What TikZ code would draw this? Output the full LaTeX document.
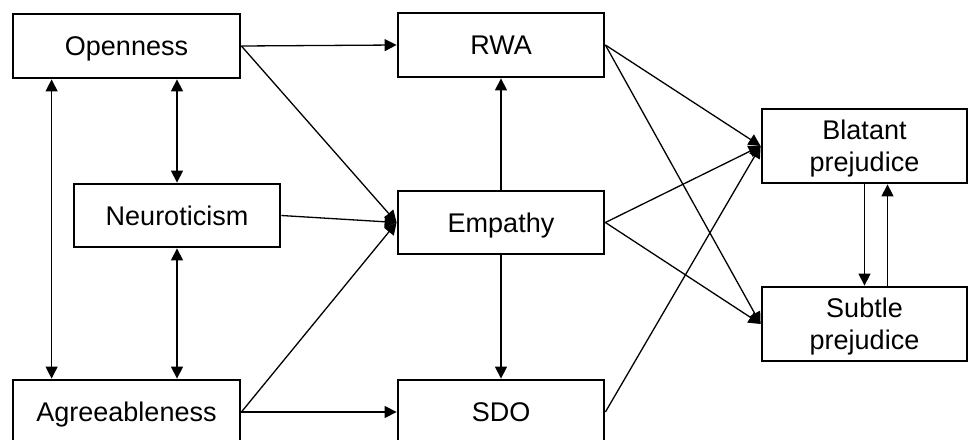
\documentclass[tikz,border=0pt]{standalone}
\usepackage{fontspec}
\setmainfont{Liberation Sans}
\usetikzlibrary{arrows.meta}
\begin{document}
\begin{tikzpicture}[x=1pt,y=-1pt,
  box/.style={draw=black, line width=2.8pt, fill=white, inner sep=0pt, align=center,
    font=\fontsize{27}{32}\selectfont, text depth=0pt},
  one/.style={text height=19pt},
  conn/.style={line width=1.3pt, -{Triangle[length=12pt,width=12pt]}},
  both/.style={line width=1.3pt, {Triangle[length=12pt,width=12pt]}-{Triangle[length=12pt,width=12pt]}}]
\useasboundingbox (0,0) rectangle (969,439);
\clip (0,0) rectangle (969,439);
\node[box, one, minimum width=227pt, minimum height=64pt] (open) at (126.5,46) {Openness};
\node[box, one, minimum width=206pt, minimum height=63pt] (neuro) at (177,215.5) {Neuroticism};
\node[box, one, minimum width=227pt, minimum height=64pt] (agree) at (126.5,412) {Agreeableness};
\node[box, one, minimum width=206pt, minimum height=64pt] (rwa) at (501,45) {RWA};
\node[box, one, minimum width=206pt, minimum height=63pt] (emp) at (501,222.5) {Empathy};
\node[box, one, minimum width=206pt, minimum height=64pt] (sdo) at (501,412) {SDO};
\node[box, minimum width=205pt, minimum height=74pt] (blat) at (864.5,146) {Blatant\\prejudice};
\node[box, minimum width=205pt, minimum height=74pt] (subt) at (864.5,324) {Subtle\\prejudice};
% predictors
\draw[conn] (open.east) -- (rwa.west);
\draw[conn] (open.east) -- (emp.west);
\draw[conn] (neuro.east) -- (emp.west);
\draw[conn] (agree.east) -- (emp.west);
\draw[conn] (agree.east) -- (sdo.west);
\draw[conn] (emp.north) -- (rwa.south);
\draw[conn] (emp.south) -- (sdo.north);
% correlations
\draw[both] ([xshift=40pt]open.south west) -- ([xshift=40pt]agree.north west);
\draw[both] (open.south -| neuro.north) -- (neuro.north);
\draw[both] (neuro.south) -- (agree.north -| neuro.south);
% outcomes
\draw[conn] (rwa.east) -- (blat.west);
\draw[conn] (rwa.east) -- (subt.west);
\draw[conn] (emp.east) -- (blat.west);
\draw[conn] (emp.east) -- (subt.west);
\draw[conn] (sdo.east) -- (blat.west);
\draw[conn] (blat.south) -- (subt.north);
\draw[conn] ([xshift=23pt]subt.north) -- ([xshift=23pt]blat.south);
\end{tikzpicture}
\end{document}
